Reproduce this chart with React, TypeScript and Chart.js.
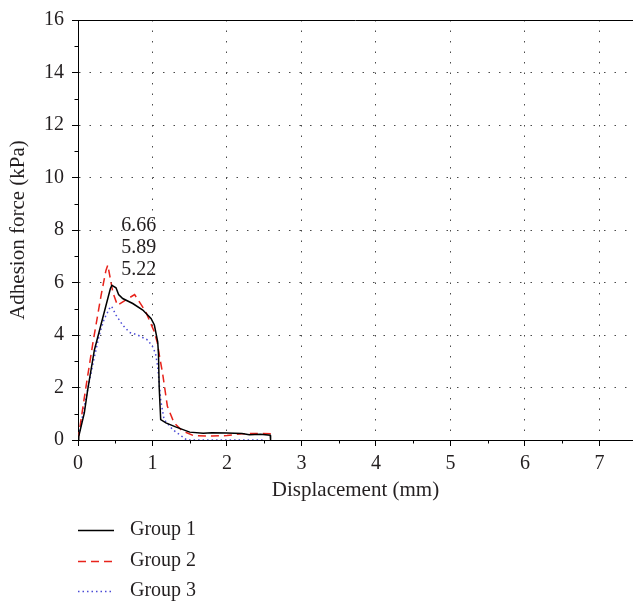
import React, { useEffect, useRef } from 'react';
import { Chart, registerables } from 'chart.js';

Chart.register(...registerables);

// ---- Data ----
const group1X = [0, 0.01, 0.085, 0.13, 0.175, 0.22, 0.25, 0.33, 0.4, 0.435, 0.455, 0.51, 0.545, 0.6, 0.735, 0.87, 0.98, 1.025, 1.07, 1.08, 1.09, 1.11, 1.18, 1.31, 1.5, 1.68, 1.8, 2.0, 2.2, 2.3, 2.45, 2.58, 2.585];
const group1Y = [0, 0.14, 1.03, 1.91, 2.67, 3.43, 3.75, 4.63, 5.39, 5.77, 5.89, 5.8, 5.54, 5.39, 5.2, 4.95, 4.63, 4.38, 3.74, 3.3, 2.0, 0.78, 0.65, 0.5, 0.3, 0.26, 0.28, 0.27, 0.25, 0.2, 0.22, 0.18, 0];

const group2X = [0, 0.1, 0.2, 0.31, 0.375, 0.4, 0.47, 0.53, 0.65, 0.76, 0.91, 1.025, 1.065, 1.1, 1.135, 1.2, 1.29, 1.4, 1.55, 1.8, 2.0, 2.2, 2.4, 2.63];
const group2Y = [0, 1.9, 3.7, 5.51, 6.46, 6.66, 5.6, 5.13, 5.35, 5.54, 4.88, 4.12, 3.7, 3.1, 2.55, 1.28, 0.65, 0.35, 0.17, 0.15, 0.17, 0.24, 0.25, 0.23];

const group3X = [0, 0.1, 0.2, 0.285, 0.35, 0.42, 0.45, 0.51, 0.6, 0.69, 0.8, 0.935, 1.0, 1.04, 1.07, 1.11, 1.155, 1.27, 1.46, 2.5];
const group3Y = [0, 1.5, 2.9, 4.0, 4.6, 5.0, 5.1, 4.76, 4.38, 4.1, 4.0, 3.81, 3.56, 3.3, 2.8, 1.53, 0.78, 0.4, 0, 0];

const seriesLabels = ['Group 1', 'Group 2', 'Group 3'];
const peakLabels = ['6.66', '5.89', '5.22'];

const xTickValues = [0, 0.5, 1, 1.5, 2, 2.5, 3, 3.5, 4, 4.5, 5, 5.5, 6, 6.5, 7];
const yTickValues = [0, 1, 2, 3, 4, 5, 6, 7, 8, 9, 10, 11, 12, 13, 14, 15, 16];

const FONT = '"Liberation Serif", "Times New Roman", serif';
const TEXT_COLOR = '#231f20';
const GRID_COLOR = '#4a4a4a';

const toPoints = (xs: number[], ys: number[]) => xs.map((x, i) => ({ x, y: ys[i] }));

const isMajorX = (v: number) => Number.isInteger(v);
const isMajorY = (v: number) => v % 2 === 0;

const decorPlugin = {
  id: 'decor',
  afterDraw(chart: any) {
    const { ctx, chartArea, scales } = chart;
    const xs = scales.x;
    const ys = scales.y;
    ctx.save();
    // top border
    ctx.strokeStyle = '#000';
    ctx.lineWidth = 1;
    ctx.setLineDash([]);
    ctx.beginPath();
    ctx.moveTo(chartArea.left, Math.round(chartArea.top) + 0.5);
    ctx.lineTo(chartArea.right, Math.round(chartArea.top) + 0.5);
    ctx.stroke();
    // minor ticks
    ctx.beginPath();
    xTickValues.filter((v) => !isMajorX(v)).forEach((v) => {
      const px = Math.round(xs.getPixelForValue(v)) + 0.5;
      ctx.moveTo(px, chartArea.bottom);
      ctx.lineTo(px, chartArea.bottom + 3.5);
    });
    yTickValues.filter((v) => !isMajorY(v)).forEach((v) => {
      const py = Math.round(ys.getPixelForValue(v)) + 0.5;
      ctx.moveTo(chartArea.left, py);
      ctx.lineTo(chartArea.left - 3.5, py);
    });
    ctx.stroke();

    // peak annotations
    ctx.font = `20px ${FONT}`;
    ctx.fillStyle = TEXT_COLOR;
    ctx.textAlign = 'left';
    ctx.textBaseline = 'middle';
    const annY = [8.17, 7.33, 6.5];
    peakLabels.forEach((t, i) => {
      ctx.fillText(t, xs.getPixelForValue(0.58), ys.getPixelForValue(annY[i]));
    });

    // legend
    const ds = chart.data.datasets;
    const legendTop = 530;
    const step = 30.5;
    ds.forEach((d: any, i: number) => {
      const y = Math.round(legendTop + i * step) + 0.5;
      ctx.strokeStyle = d.borderColor;
      ctx.lineWidth = d.borderWidth;
      ctx.setLineDash(d.borderDash || []);
      ctx.beginPath();
      ctx.moveTo(78, y);
      ctx.lineTo(114, y);
      ctx.stroke();
      ctx.setLineDash([]);
      ctx.fillStyle = TEXT_COLOR;
      ctx.fillText(d.label, 130, y - 1);
    });
    ctx.restore();
  },
};

export default function App() {
  const canvasRef = useRef<HTMLCanvasElement | null>(null);

  useEffect(() => {
    const canvas = canvasRef.current;
    if (!canvas) return;
    const chart = new Chart(canvas, {
      type: 'line',
      data: {
        datasets: [
          {
            label: seriesLabels[0],
            data: toPoints(group1X, group1Y),
            borderColor: '#000000',
            borderWidth: 1.5,
            pointRadius: 0,
            tension: 0,
            fill: false,
          },
          {
            label: seriesLabels[1],
            data: toPoints(group2X, group2Y),
            borderColor: '#e8231b',
            borderWidth: 1.5,
            borderDash: [8, 5],
            pointRadius: 0,
            tension: 0,
            fill: false,
          },
          {
            label: seriesLabels[2],
            data: toPoints(group3X, group3Y),
            borderColor: '#4a4ad6',
            borderWidth: 1.5,
            borderDash: [1.5, 3],
            pointRadius: 0,
            tension: 0,
            fill: false,
          },
        ],
      },
      options: {
        responsive: false,
        animation: false,
        layout: { padding: { top: 18, right: 0, bottom: 98, left: 0 } },
        plugins: {
          legend: { display: false },
          tooltip: { enabled: false },
        },
        scales: {
          x: {
            type: 'linear',
            min: 0,
            max: 7.45,
            afterBuildTicks: (scale: any) => {
              scale.ticks = xTickValues.map((v) => ({ value: v }));
            },
            afterFit: (scale: any) => {
              scale.height = 67;
            },
            border: { display: true, color: '#000', width: 1, dash: [1.5, 9] },
            grid: {
              color: (c: any) => (c.tick && isMajorX(c.tick.value) && c.tick.value !== 0 ? GRID_COLOR : 'rgba(0,0,0,0)'),
              lineWidth: 1,
              tickColor: (c: any) => (c.tick && isMajorX(c.tick.value) ? '#000' : 'rgba(0,0,0,0)'),
              tickLength: 6,
              drawTicks: true,
            },
            ticks: {
              autoSkip: false,
              maxRotation: 0,
              padding: 6,
              color: TEXT_COLOR,
              font: { family: FONT, size: 20 },
              callback: (v: any) => (isMajorX(Number(v)) ? String(v) : ''),
            },
            title: {
              display: true,
              text: 'Displacement (mm)',
              color: TEXT_COLOR,
              font: { family: FONT, size: 21 },
              padding: { top: 4, bottom: 4 },
            },
          },
          y: {
            type: 'linear',
            min: 0,
            max: 16,
            afterBuildTicks: (scale: any) => {
              scale.ticks = yTickValues.map((v) => ({ value: v }));
            },
            afterFit: (scale: any) => {
              scale.width = 78;
            },
            border: { display: true, color: '#000', width: 1, dash: [1.5, 9] },
            grid: {
              color: (c: any) =>
                c.tick && isMajorY(c.tick.value) && c.tick.value !== 0 && c.tick.value !== 16 ? GRID_COLOR : 'rgba(0,0,0,0)',
              lineWidth: 1,
              tickColor: (c: any) => (c.tick && isMajorY(c.tick.value) ? '#000' : 'rgba(0,0,0,0)'),
              tickLength: 6,
              drawTicks: true,
            },
            ticks: {
              autoSkip: false,
              padding: 8,
              color: TEXT_COLOR,
              font: { family: FONT, size: 20 },
              callback: (v: any) => (isMajorY(Number(v)) ? String(v) : ''),
            },
            title: {
              display: true,
              text: 'Adhesion force (kPa)',
              color: TEXT_COLOR,
              font: { family: FONT, size: 21 },
              padding: { top: 6, bottom: 4 },
            },
          },
        },
      },
      plugins: [decorPlugin],
    } as any);

    return () => chart.destroy();
  }, []);

  return (
    <div style={{ position: 'absolute', left: 0, top: 0, width: 633, height: 605, background: '#fff' }}>
      <canvas ref={canvasRef} width={633} height={605} style={{ display: 'block' }} />
    </div>
  );
}
